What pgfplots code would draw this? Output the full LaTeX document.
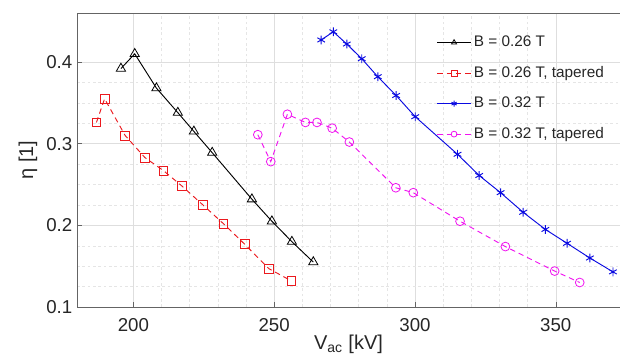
\documentclass[border=0pt]{standalone}
\usepackage{pgfplots}
\pgfplotsset{compat=1.18}
\usepackage{fontspec}
\setmainfont{Liberation Sans}
\usetikzlibrary{calc}
\definecolor{cred}{RGB}{235,25,30}
\definecolor{cblue}{RGB}{10,10,225}
\definecolor{cmag}{RGB}{240,20,240}
\definecolor{axgray}{RGB}{100,100,100}
\begin{document}
\begin{tikzpicture}
\begin{axis}[
  name=ax,
  scale only axis,
  width=407.25pt, height=220.5pt,
  xmin=180, xmax=372.8, ymin=0.1, ymax=0.46,
  xtick={200,250,300,350}, ytick={0.1,0.2,0.3,0.4},
  minor x tick num=4, minor y tick num=3,
  grid=both,
  major grid style={line width=0.4pt, draw=black!13},
  minor grid style={line width=0.3pt, draw=black!10, dash pattern=on 2pt off 2pt},
  axis line style={draw=none},
  tick style={draw=axgray, line width=0.4pt},
  major tick length=4pt, minor tick length=0pt,
  tick align=inside,
  xtick pos=bottom, ytick pos=left,
  /pgf/number format/assume math mode=true,
  xticklabel style={/pgf/number format/fixed, /pgf/number format/precision=0, font=\fontsize{14}{16}\selectfont, text=black!85, yshift=-5pt},
  yticklabel style={/pgf/number format/fixed, /pgf/number format/fixed zerofill, /pgf/number format/precision=1, font=\fontsize{14}{16}\selectfont, text=black!85},
  xlabel={V\textsubscript{ac} [kV]},
  ylabel={η [1]},
  xlabel style={font=\fontsize{15}{17}\selectfont, text=black!85, yshift=4pt},
  ylabel style={font=\fontsize{15}{17}\selectfont, text=black!85, yshift=0pt},
  legend style={draw=none, fill=none, at={(0.655,0.94)}, anchor=north west,
    font=\fontsize{11.5}{13}\selectfont, row sep=9.2pt, text=black!85},
  legend cell align=left,
  legend image code/.code={\draw[mark repeat=2,mark phase=2,mark size=2.2pt] plot coordinates {(0pt,0pt)(12.5pt,0pt)(25pt,0pt)};},
  mark size=3.3pt,
]
\draw[axgray, line width=0.5pt] (rel axis cs:0,0) -- (rel axis cs:1,0);
\draw[axgray, line width=0.5pt] (rel axis cs:0,0) -- (rel axis cs:0,1) -- (rel axis cs:1,1);

\addplot[black, line width=0.7pt, mark=triangle, mark size=4pt, mark options={solid, line width=0.6pt}] coordinates {
(195.6,0.392) (200.5,0.410) (208.2,0.368) (215.8,0.338) (221.5,0.315) (228.0,0.289)
(242.1,0.232) (249.2,0.205) (256.3,0.180) (263.9,0.155)};
\addlegendentry{B = 0.26 T}

\addplot[cred, line width=0.7pt, dash pattern=on 4pt off 3pt, mark=square, mark options={solid, line width=0.6pt}] coordinates {
(186.9,0.326) (189.8,0.355) (197.1,0.310) (204.1,0.283) (210.7,0.267) (217.3,0.248)
(224.7,0.225) (232.0,0.202) (239.5,0.177) (248.1,0.147) (256.1,0.132)};
\addlegendentry{B = 0.26 T, tapered}

\addplot[cblue, line width=0.7pt, mark=asterisk, mark options={solid, line width=0.7pt}] coordinates {
(266.7,0.427) (271.0,0.437) (275.8,0.422) (281.1,0.404) (286.8,0.382) (293.3,0.359)
(300.1,0.333) (315.1,0.287) (322.8,0.261) (330.4,0.240) (338.4,0.216) (346.3,0.195)
(354.0,0.178) (362.1,0.160) (370.3,0.143)};
\addlegendentry{B = 0.32 T}

\addplot[cmag, line width=0.7pt, dash pattern=on 4pt off 3pt, mark=o, mark options={solid, line width=0.6pt}] coordinates {
(244.2,0.311) (248.8,0.278) (254.7,0.336) (261.1,0.326) (265.2,0.326) (270.6,0.319)
(276.7,0.302) (293.2,0.246) (299.4,0.240) (316.0,0.205) (332.1,0.174) (349.6,0.144)
(358.5,0.130)};
\addlegendentry{B = 0.32 T, tapered}
\end{axis}
\pgfresetboundingbox
\path[use as bounding box] ($(ax.south west)+(-57.75pt,-39.75pt)$) rectangle ($(ax.north east)+(0pt,9.75pt)$);
\end{tikzpicture}
\end{document}
